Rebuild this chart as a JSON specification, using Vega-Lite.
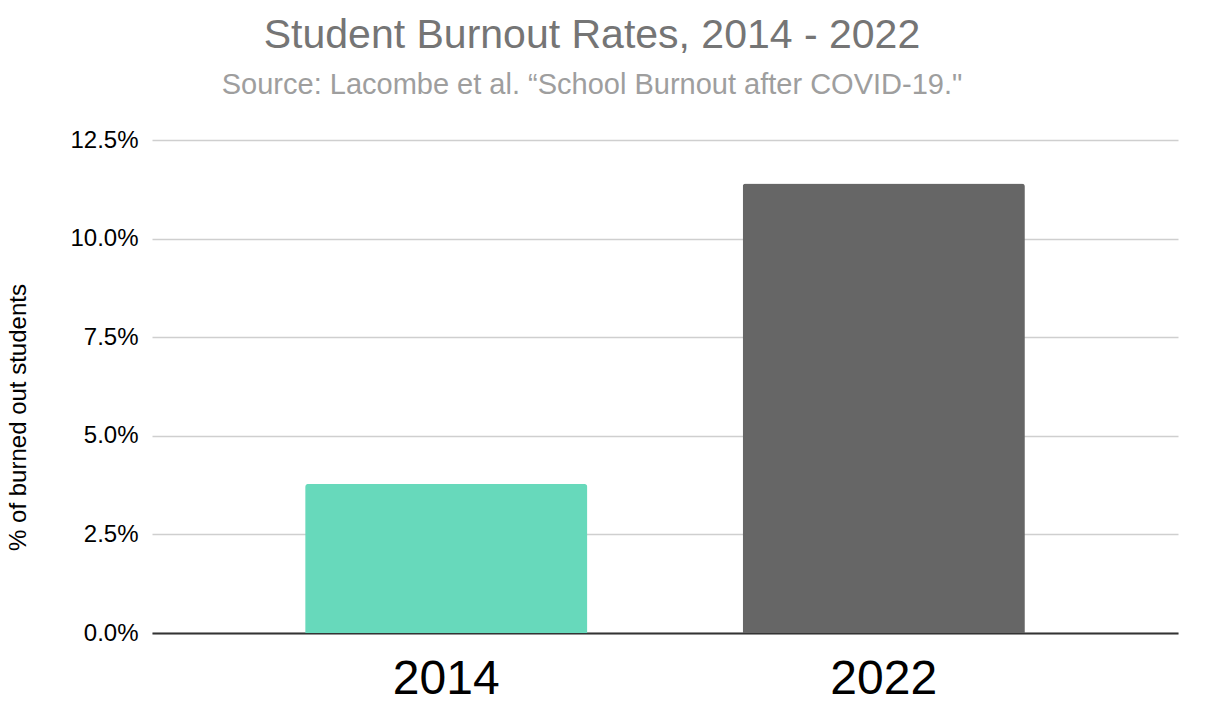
{
  "$schema": "https://vega.github.io/schema/vega-lite/v6.json",
  "width": 1026,
  "height": 493,
  "autosize": "none",
  "padding": {"left": 152, "top": 140, "right": 36, "bottom": 81},
  "background": "white",
  "title": {
    "text": "Student Burnout Rates, 2014 - 2022",
    "subtitle": "Source: Lacombe et al. \u201cSchool Burnout after COVID-19.\"",
    "anchor": "middle",
    "frame": "group",
    "dx": -73,
    "offset": 27,
    "font": "Liberation Sans",
    "fontSize": 41,
    "fontWeight": "normal",
    "color": "#757575",
    "subtitleFont": "Liberation Sans",
    "subtitleFontSize": 29,
    "subtitleColor": "#9e9e9e",
    "subtitlePadding": 14
  },
  "data": {
    "values": [
      {"year": "2014", "rate": 0.0378},
      {"year": "2022", "rate": 0.114}
    ]
  },
  "mark": {"type": "bar", "cornerRadiusTopLeft": 3, "cornerRadiusTopRight": 3},
  "encoding": {
    "x": {
      "field": "year",
      "type": "nominal",
      "scale": {"paddingInner": 0.355, "paddingOuter": 0.35},
      "axis": {
        "title": null,
        "labelAngle": 0,
        "labelFontSize": 48,
        "labelColor": "#000000",
        "labelPadding": 22,
        "ticks": false,
        "domainColor": "#333333",
        "domainWidth": 2
      }
    },
    "y": {
      "field": "rate",
      "type": "quantitative",
      "scale": {"domain": [0, 0.125], "nice": false},
      "axis": {
        "title": "% of burned out students",
        "values": [0, 0.025, 0.05, 0.075, 0.1, 0.125],
        "format": ".1%",
        "labelFontSize": 24,
        "labelColor": "#000000",
        "labelPadding": 14,
        "ticks": false,
        "domain": false,
        "gridColor": "#cfcfcf",
        "gridWidth": 1.5,
        "titleFontSize": 24,
        "titleFontWeight": "normal",
        "titleColor": "#000000",
        "titleX": -134,
        "titleY": 277,
        "titleAlign": "center",
        "titleBaseline": "middle",
        "titleAngle": -90
      }
    },
    "color": {
      "field": "year",
      "type": "nominal",
      "scale": {"domain": ["2014", "2022"], "range": ["#67d9bb", "#666666"]},
      "legend": null
    }
  },
  "config": {
    "view": {"stroke": null},
    "font": "Liberation Sans",
    "axis": {"labelFont": "Liberation Sans", "titleFont": "Liberation Sans"}
  }
}
